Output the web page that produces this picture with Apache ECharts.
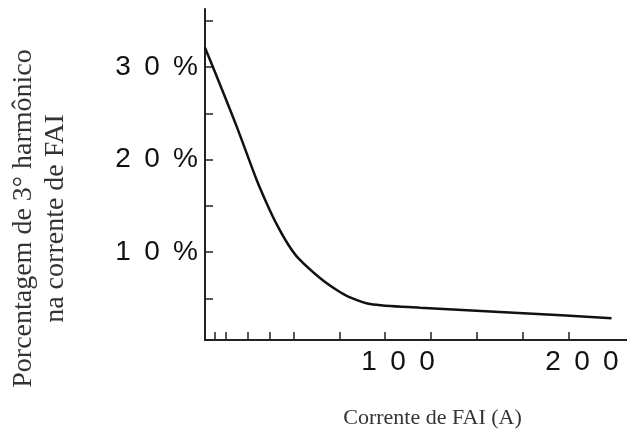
<!DOCTYPE html>
<html><head><meta charset="utf-8">
<script src="https://cdn.jsdelivr.net/npm/echarts@6/dist/echarts.min.js"></script>
<style>html,body{margin:0;padding:0;background:#fff}#c{width:627px;height:436px}</style>
</head><body><div id="c"></div>
<script>
// Current of high-impedance fault (A) vs 3rd harmonic percentage
const currentA = [-4.9, 1.5, 12.3, 23.2, 28.6, 34.1, 40.4, 45.8, 57.6, 66.7, 73.0, 84.8, 112, 168.1, 216.1];
const harmonicPct = [32.1, 29.0, 23.6, 17.8, 15.3, 13.0, 10.8, 9.35, 7.2, 5.9, 5.2, 4.4, 4.0, 3.4, 2.85];
const xTickValues = [0.5, 6.5, 18.3, 30.4, 43.1, 68.1, 92.9, 117.9, 142.8, 167.8, 193];
const xLabelValues = [100, 200];
const yTickValues = [5, 10, 15, 20, 25, 30, 35];
const yLabelValues = [10, 20, 30];

const spaced = s => String(s).split('').join(' \u2009');

const chart = echarts.init(document.getElementById('c'), null, {renderer: 'canvas'});
chart.setOption({
  animation: false,
  backgroundColor: '#fff',
  grid: {left: 205, right: 0, top: 9, bottom: 96, containLabel: false, outerBoundsMode: 'none'},
  xAxis: {
    type: 'value', min: -4.9, max: 224.5,
    name: 'Corrente de FAI (A)', nameLocation: 'middle', nameGap: 67,
    nameTextStyle: {fontFamily: 'Liberation Serif', fontSize: 22, color: '#333', padding: [0, 0, 0, 33]},
    axisLine: {onZero: false, lineStyle: {color: '#222', width: 2}},
    axisTick: {show: true, inside: true, length: 8, customValues: xTickValues, lineStyle: {color: '#222', width: 1.5}},
    axisLabel: {customValues: xLabelValues, formatter: v => spaced(v), margin: 8,
      fontFamily: 'Liberation Sans', fontSize: 28, color: '#111'},
    splitLine: {show: false}
  },
  yAxis: {
    type: 'value', min: 0.5, max: 36.3,
    name: 'Porcentagem de 3° harmônico\nna corrente de FAI', nameLocation: 'middle', nameGap: 133, nameRotate: 90,
    nameTextStyle: {fontFamily: 'Liberation Serif', fontSize: 28, lineHeight: 32, color: '#333', padding: [0, 88, 0, 0], align: 'center'},
    axisLine: {onZero: false, lineStyle: {color: '#222', width: 2}},
    axisTick: {show: true, inside: true, length: 8, customValues: yTickValues, lineStyle: {color: '#222', width: 1.5}},
    axisLabel: {customValues: yLabelValues, formatter: v => spaced(v + '%'), margin: 7,
      fontFamily: 'Liberation Sans', fontSize: 28, color: '#111'},
    splitLine: {show: false}
  },
  series: [{
    type: 'line',
    data: currentA.map((x, i) => [x, harmonicPct[i]]),
    smooth: 0.3, showSymbol: false, symbol: 'none',
    lineStyle: {color: '#111', width: 2.5}
  }]
});
</script></body></html>
